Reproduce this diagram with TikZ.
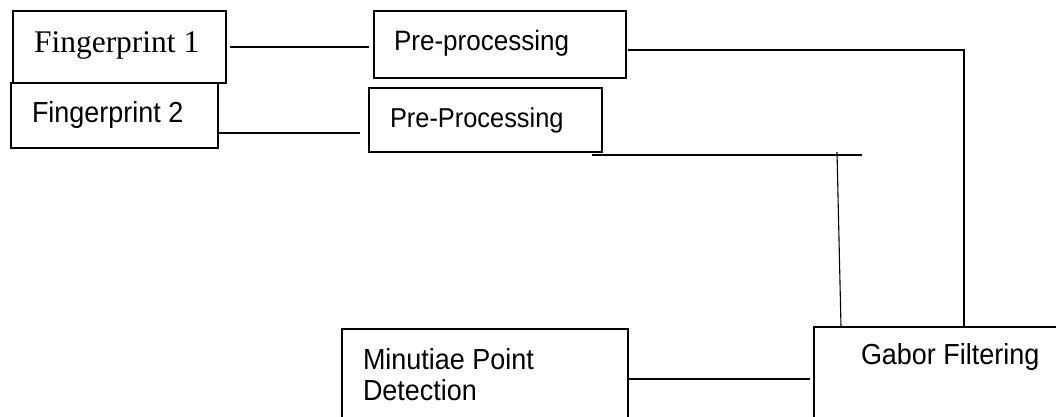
\documentclass[tikz,border=0pt]{standalone}
\usepackage{fontspec}
\newfontfamily\sansf{Liberation Sans}[FakeStretch=0.93]
\newfontfamily\seriff{Liberation Serif}
\begin{document}
\begin{tikzpicture}[x=1pt,y=-1pt,
  box/.style={draw, line width=1.5pt, inner sep=0pt, outer sep=0pt, anchor=north west},
  lbl/.style={anchor=base west, inner sep=0pt, outer sep=0pt, font=\sansf\fontsize{29}{31}\selectfont},
  conn/.style={line width=1.1pt}]
\useasboundingbox (0,0) rectangle (1056,416);
\clip (0,0) rectangle (1056,416);
% boxes
\node[box, minimum width=213pt, minimum height=72pt] (f1) at (13,11) {};
\node[box, minimum width=207pt, minimum height=65pt] (f2) at (11,83) {};
\node[box, minimum width=252pt, minimum height=67pt] (pp1) at (374,11) {};
\node[box, minimum width=233pt, minimum height=64pt] (pp2) at (369,88) {};
\node[box, minimum width=286pt, minimum height=110pt] (mp) at (342,329) {};
\node[box, minimum width=260pt, minimum height=110pt] (gf) at (814,327) {};
% labels
\node[lbl, font=\seriff\fontsize{31.5}{36}\selectfont] (t1) at (34,52) {Fingerprint 1};
\node[lbl] (t2) at (32,122) {Fingerprint 2};
\node[lbl, font=\sansf\fontsize{28}{31}\selectfont] (t3) at (394,50) {Pre-processing};
\node[lbl, font=\sansf\fontsize{27.3}{31}\selectfont] (t4) at (390,127) {Pre-Processing};
\node[lbl, align=left] (t5) at (363,400) {Minutiae Point\\Detection};
\node[lbl] (t6) at (861,364) {Gabor Filtering};
% connectors
\draw[conn, shorten <=4pt, shorten >=5pt] (f1.east) -- (f1.east -| pp1.west);
\draw[conn, shorten >=9pt] (f2.east |- 0,133) -- (pp2.west |- 0,133);
\draw[conn, shorten <=2pt] (pp1.east |- 0,50) -| ([xshift=150pt]gf.north west);
\coordinate (h1) at (592,155);
\coordinate (h2) at (862,155);
\draw[conn] (h1) -- (h2);
\coordinate (v1) at (837,152);
\draw[conn] (v1) -- ([xshift=27pt]gf.north west);
\draw[conn, shorten >=4pt] (mp.east |- 0,379) -- (gf.west |- 0,379);
\end{tikzpicture}
\end{document}
